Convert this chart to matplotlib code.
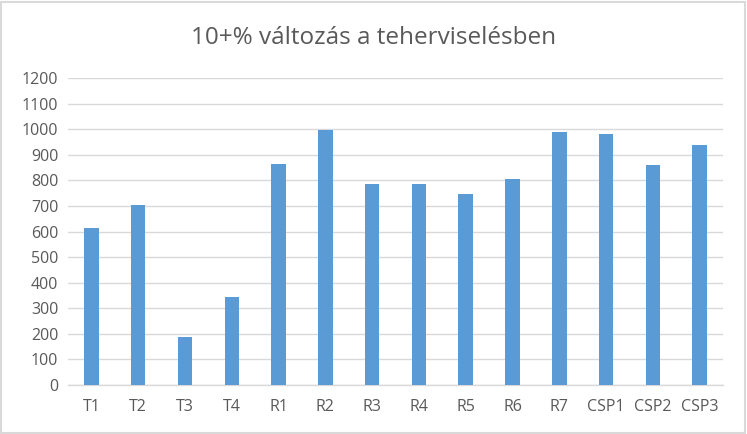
import matplotlib.pyplot as plt
from matplotlib.patches import Rectangle

plt.rcParams['font.family'] = ['Open Sans', 'DejaVu Sans']

categories = ["T1", "T2", "T3", "T4", "R1", "R2", "R3", "R4", "R5", "R6", "R7",
              "CSP1", "CSP2", "CSP3"]
values = [614, 704, 188, 344, 865, 998, 786, 786, 747, 806, 990, 982, 861, 939]
yticks = list(range(0, 1300, 100))

bar_color = "#5B9BD5"
grid_color = "#D9D9D9"
text_color = "#595959"

fig = plt.figure(figsize=(7.47, 4.34), dpi=100)
ax = fig.add_axes([0.091, 0.113, 0.877, 0.707])

x = range(len(categories))
ax.bar(x, values, width=0.31, color=bar_color, zorder=3)

ax.set_xlim(-0.5, len(categories) - 0.5)
ax.set_ylim(0, 1200)
ax.set_yticks(yticks)
ax.set_xticks(list(x))
ax.set_xticklabels(categories)

ax.grid(axis="y", color=grid_color, linewidth=1, zorder=0)
for side in ["left", "right", "top"]:
    ax.spines[side].set_visible(False)
ax.spines["bottom"].set_color(grid_color)
ax.spines["bottom"].set_linewidth(1)
ax.tick_params(axis="both", length=0, colors=text_color, labelsize=11.5)
ax.tick_params(axis="x", pad=10)
ax.tick_params(axis="y", pad=7)

fig.text(0.5, 0.912, "10+% változás a teherviselésben", ha="center", va="center",
         fontsize=17.5, color=text_color)

# chart frame
fig.patches.append(Rectangle((0.0015, 0.003), 0.996, 0.993, transform=fig.transFigure,
                             fill=False, edgecolor=grid_color, linewidth=1.5))

fig.savefig("out.png", dpi=100)
